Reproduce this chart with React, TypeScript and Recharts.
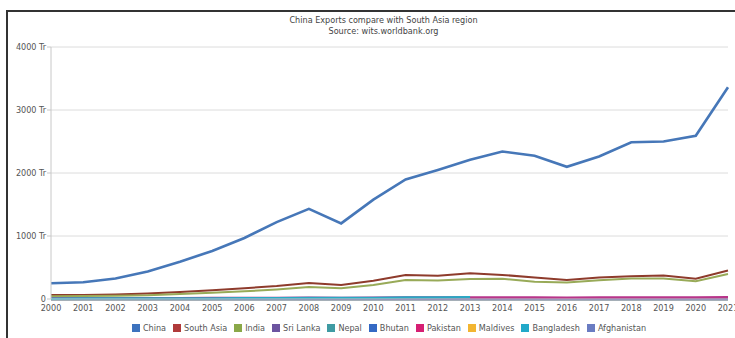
import { CartesianGrid, Legend, Line, LineChart, XAxis, YAxis } from "recharts";

const years = [
  "2000", "2001", "2002", "2003", "2004", "2005", "2006", "2007", "2008", "2009", "2010",
  "2011", "2012", "2013", "2014", "2015", "2016", "2017", "2018", "2019", "2020", "2021",
];

const china = [
  249, 266, 326, 438, 593, 762, 969, 1220, 1430, 1200, 1578,
  1898, 2049, 2209, 2342, 2273, 2098, 2263, 2487, 2499, 2590, 3362,
];
const southAsia = [
  62, 63, 70, 86, 110, 140, 172, 205, 252, 222, 290,
  380, 368, 410, 382, 342, 302, 340, 362, 372, 322, 452,
];
const india = [
  45, 46, 52, 60, 80, 100, 122, 152, 192, 170, 222,
  302, 292, 318, 322, 272, 262, 296, 326, 326, 282, 396,
];
const sriLanka = [
  5.4, 4.8, 4.7, 5.1, 5.8, 6.3, 6.9, 7.6, 8.1, 7.1, 8.6,
  10.6, 9.8, 10.4, 11.1, 10.5, 10.3, 11.4, 11.9, 11.9, 10.0, 12.5,
];
const nepal = [
  0.8, 0.74, 0.57, 0.65, 0.76, 0.83, 0.84, 0.89, 0.94, 0.87, 0.87,
  0.92, 0.89, 0.88, 0.9, 0.66, 0.7, 0.76, 0.79, 0.97, 0.85, 1.2,
];
const bhutan = [
  0.1, 0.1, 0.1, 0.13, 0.18, 0.26, 0.41, 0.67, 0.52, 0.5, 0.64,
  0.67, 0.55, 0.54, 0.55, 0.55, 0.5, 0.56, 0.6, 0.7, 0.6, 0.7,
];
const pakistan = [
  9, 9.2, 9.9, 11.9, 13.4, 16, 16.9, 17.8, 20.3, 17.7, 21.4,
  25.4, 24.6, 25.1, 24.7, 22.1, 20.5, 21.9, 23.6, 23.8, 22.2, 28.8,
];
const maldives = [
  0.1, 0.1, 0.09, 0.11, 0.12, 0.1, 0.14, 0.11, 0.13, 0.17, 0.07,
  0.13, 0.16, 0.17, 0.15, 0.14, 0.14, 0.17, 0.2, 0.17, 0.13, 0.18,
];
// bangladesh line only shows up to 2013
const bangladesh = [
  5.6, 6.4, 6.5, 6.9, 8.2, 9.3, 11.8, 12.5, 15.4, 15.1, 16.2,
  22.9, 24.3, 29.1, null, null, null, null, null, null, null, null,
];
const afghanistan = [
  0.14, 0.1, 0.1, 0.15, 0.3, 0.38, 0.42, 0.45, 0.54, 0.4, 0.39,
  0.38, 0.43, 0.51, 0.57, 0.57, 0.6, 0.78, 0.88, 0.86, 0.78, 0.9,
];

const yTicks = [0, 1000, 2000, 3000, 4000];

// legend order
const series = [
  { key: "china", name: "China", color: "#3d73be", line: "#4677b8", width: 2.6 },
  { key: "southAsia", name: "South Asia", color: "#b03a3a", line: "#8e3b2c", width: 2 },
  { key: "india", name: "India", color: "#8aa848", line: "#98aa58", width: 2 },
  { key: "sriLanka", name: "Sri Lanka", color: "#6c54a0", line: "#6c54a0", width: 2.5 },
  { key: "nepal", name: "Nepal", color: "#3f9ba3", line: "#3f9ba3", width: 2.5 },
  { key: "bhutan", name: "Bhutan", color: "#3469c4", line: "#3469c4", width: 2.5 },
  { key: "pakistan", name: "Pakistan", color: "#d61f73", line: "#b8358a", width: 2.5 },
  { key: "maldives", name: "Maldives", color: "#f2b531", line: "#f2b531", width: 2.5 },
  { key: "bangladesh", name: "Bangladesh", color: "#22a9c9", line: "#2aa8c4", width: 2.5 },
  { key: "afghanistan", name: "Afghanistan", color: "#6a7cc2", line: "#6a7cc2", width: 2.5 },
];

// draw order so the small ones overlap like the source
const drawOrder = [
  "china", "southAsia", "india", "nepal", "bhutan", "maldives",
  "afghanistan", "sriLanka", "pakistan", "bangladesh",
];

const data = years.map((year, i) => ({
  year,
  china: china[i],
  southAsia: southAsia[i],
  india: india[i],
  sriLanka: sriLanka[i],
  nepal: nepal[i],
  bhutan: bhutan[i],
  pakistan: pakistan[i],
  maldives: maldives[i],
  bangladesh: bangladesh[i],
  afghanistan: afghanistan[i],
}));

const FONT = "'DejaVu Sans Condensed', 'Liberation Sans', Arial, sans-serif";

function YTick({ x, y, payload }: any) {
  const v = payload.value;
  return (
    <text
      x={x}
      y={y}
      dy={3}
      textAnchor="end"
      fontSize={9}
      fill="#555"
      fontFamily={FONT}
    >
      {v === 0 ? "0" : `${v} Tr`}
    </text>
  );
}

function LegendRow() {
  return (
    <div
      style={{
        display: "flex",
        justifyContent: "center",
        paddingLeft: 44,
        fontFamily: FONT,
        fontSize: 9,
        color: "#555",
        gap: 7,
      }}
    >
      {series.map((s) => (
        <span key={s.key} style={{ display: "flex", alignItems: "center", gap: 3 }}>
          <span style={{ width: 8, height: 8, background: s.color, display: "inline-block" }} />
          {s.name}
        </span>
      ))}
    </div>
  );
}

export default function App() {
  return (
    <div
      style={{
        position: "absolute",
        left: 0,
        top: 0,
        width: 735,
        height: 338,
        background: "#fff",
        overflow: "hidden",
        fontFamily: FONT,
      }}
    >
      <div
        style={{
          position: "absolute",
          left: 6,
          top: 10,
          width: 800,
          height: 400,
          borderLeft: "2px solid #333",
          borderTop: "2px solid #333",
        }}
      />
      <div
        style={{
          position: "absolute",
          left: 0,
          top: 15,
          width: 767,
          textAlign: "center",
          fontSize: 9,
          lineHeight: "11px",
          color: "#444",
        }}
      >
        <div>China Exports compare with South Asia region</div>
        <div>Source: wits.worldbank.org</div>
      </div>
      <LineChart
        width={735}
        height={338}
        data={data}
        margin={{ top: 47, right: 7, left: 6, bottom: 1 }}
        style={{ position: "absolute", left: 0, top: 0 }}
      >
        <CartesianGrid vertical={false} stroke="#dcdcdc" />
        <XAxis
          dataKey="year"
          interval={0}
          tickLine={false}
          axisLine={{ stroke: "#c8c8c8" }}
          tick={{ fontSize: 9, fill: "#555", fontFamily: FONT }}
          tickMargin={0}
          height={24}
        />
        <YAxis
          domain={[0, 4000]}
          ticks={yTicks}
          width={45}
          axisLine={{ stroke: "#c8c8c8" }}
          tickLine={{ stroke: "#c8c8c8" }}
          tickSize={4}
          tickMargin={1}
          tick={<YTick />}
        />
        <Legend verticalAlign="bottom" height={14} content={() => <LegendRow />} />
        {drawOrder.map((k) => {
          const s = series.find((x) => x.key === k)!;
          return (
            <Line
              key={s.key}
              type="linear"
              dataKey={s.key}
              name={s.name}
              stroke={s.line}
              strokeWidth={s.width}
              dot={false}
              isAnimationActive={false}
            />
          );
        })}
      </LineChart>
    </div>
  );
}
